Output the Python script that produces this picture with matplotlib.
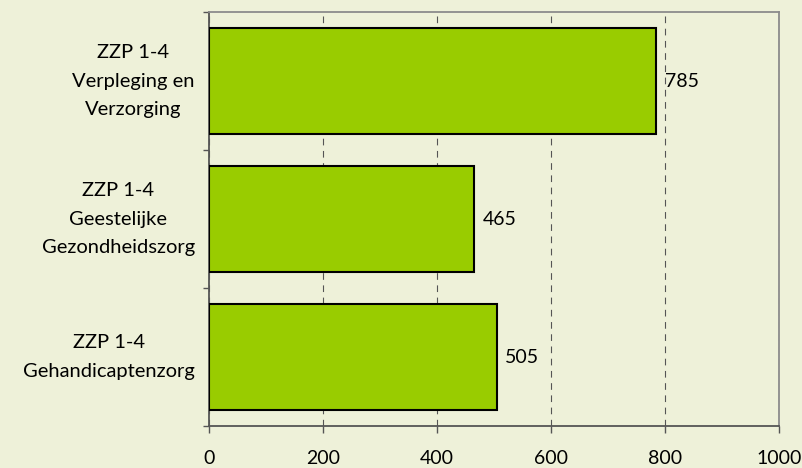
import matplotlib.pyplot as plt
import numpy as np

categories = [
    "ZZP 1-4\nVerpleging en\nVerzorging",
    "ZZP 1-4\nGeestelijke\nGezondheidszorg",
    "ZZP 1-4\nGehandicaptenzorg",
]
values = [785, 465, 505]
x_ticks = [0, 200, 400, 600, 800, 1000]

bg = "#EEF1D9"
bar_color = "#99CC00"

plt.rcParams["font.family"] = ["Lato", "DejaVu Sans"]

fig = plt.figure(figsize=(8.03, 4.68), dpi=100, facecolor=bg)
ax = fig.add_axes([0.2603, 0.0897, 0.7098, 0.8846], facecolor=bg)

y = np.arange(len(categories))[::-1]
ax.barh(y, values, height=0.77, color=bar_color, edgecolor="black", linewidth=1.5, zorder=3)

for yi, v in zip(y, values):
    ax.text(v + 15, yi, str(v), va="center", ha="left", fontsize=14, color="black", zorder=4)

# category labels: block centred, right edge just left of the axis
for yi, lab in zip(y, categories):
    ax.text(-0.025, yi, lab, transform=ax.get_yaxis_transform(), ha="right", va="center",
            multialignment="center", fontsize=14.5, linespacing=1.85)

ax.set_xlim(0, 1000)
ax.set_ylim(-0.5, len(categories) - 0.5)
ax.set_xticks(x_ticks)
ax.set_xticklabels([str(t) for t in x_ticks], fontsize=14)
ax.tick_params(axis="x", direction="out", length=5, width=1, color="#555555", pad=12)

ax.set_yticks([])
ax.set_yticks(np.arange(len(categories) + 1) - 0.5, minor=True)
ax.tick_params(axis="y", which="minor", direction="out", length=4.5, width=1, color="#555555")

ax.grid(axis="x", linestyle=(0, (6, 5)), color="#555555", linewidth=0.8, zorder=1)

for side in ["left", "bottom"]:
    ax.spines[side].set_color("#555555")
    ax.spines[side].set_linewidth(1.3)
for side in ["top", "right"]:
    ax.spines[side].set_color("#8C8C8C")
    ax.spines[side].set_linewidth(1.3)

fig.savefig("out.png", dpi=100, facecolor=bg)
